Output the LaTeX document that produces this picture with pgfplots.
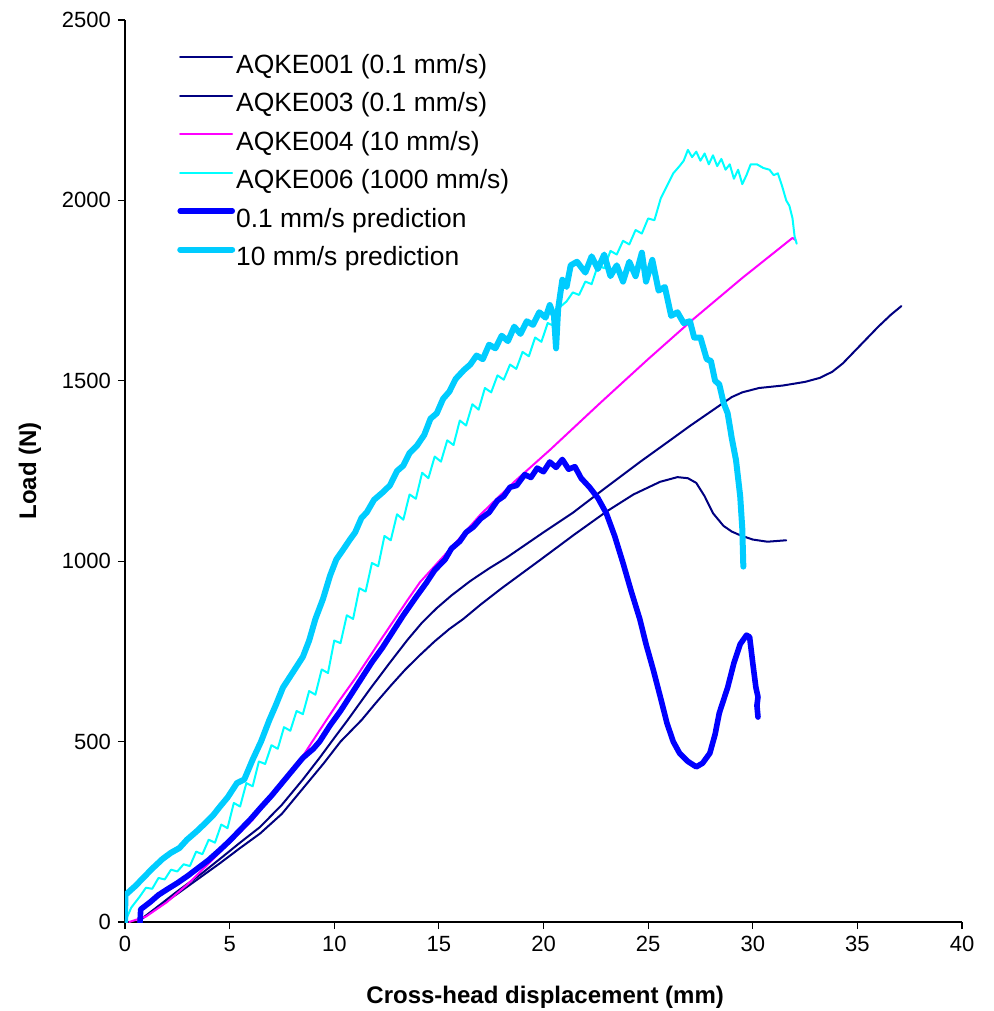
\documentclass[border=0pt]{standalone}
\usepackage{pgfplots}
\pgfplotsset{compat=1.18}
\usepackage{fontspec}
\setmainfont{Liberation Sans}
\definecolor{cnavy}{HTML}{000080}
\definecolor{cmag}{HTML}{FF00FF}
\definecolor{ccyan}{HTML}{00FFFF}
\definecolor{cblue}{HTML}{0000FF}
\definecolor{csky}{HTML}{00CCFF}
\begin{document}
\begin{tikzpicture}
\useasboundingbox (-62.5pt,-44.5pt) rectangle (434pt,461pt);
\begin{axis}[
  at={(0pt,0pt)}, anchor=south west,
  scale only axis, width=418.5pt, height=451pt,
  xmin=0, xmax=40, ymin=0, ymax=2500,
  axis lines*=left,
  axis line style={line width=0.6pt, black},
  xtick={0,5,...,40}, ytick={0,500,...,2500},
  tick align=outside, major tick length=3.5pt,
  tick style={line width=0.6pt, black},
  /pgf/number format/assume math mode=true,
  /pgf/number format/1000 sep={},
  ticklabel style={font=\fontsize{11}{13}\selectfont},
  xlabel={\textbf{Cross-head displacement (mm)}},
  ylabel={\textbf{Load (N)}},
  label style={font=\fontsize{12}{14}\selectfont},
  xlabel style={at={(axis description cs:0.502,-0.0831)}, anchor=center},
  ylabel style={at={(axis description cs:-0.1135,0.5)}, anchor=center},
  legend cell align=left,
  legend style={draw=none, fill=none, at={(0.0624,0.9623)}, anchor=north west,
    inner sep=0pt, outer sep=0pt, column sep=0.5pt, row sep=7.25pt,
    font=\fontsize{13.2}{14}\selectfont,
    nodes={inner sep=0pt, text height=9.5pt, text depth=2.5pt}},
  legend image code/.code={\draw[#1] (0pt,0.45em) -- (26pt,0.45em);},
  every axis plot/.append style={line join=round, line cap=round},
]
% AQKE001 (upper navy)
\addplot[cnavy, line width=1pt] coordinates {
(0.6,0) (1.5,40) (2.5,85) (3.7,136) (4.54,175) (5.5,220) (6.45,263) (7.5,325)
(8.5,395) (9.3,455) (10.0,510) (10.67,562) (11.7,645) (12.7,722) (13.5,782)
(14.2,830) (14.9,870) (15.6,905) (16.5,945) (17.4,980) (18.24,1010) (20.0,1080)
(21.42,1135) (23.0,1205) (24.61,1275) (26.0,1333) (27.0,1375) (28.3,1427)
(29.0,1455) (29.5,1468) (30.3,1480) (31.45,1487) (32.5,1497) (33.2,1508)
(33.8,1525) (34.3,1548) (34.8,1578) (35.3,1608) (36,1650) (36.6,1683) (37.1,1707)};
\addlegendentry{AQKE001 (0.1 mm/s)}
% AQKE003 (lower navy)
\addplot[cnavy, line width=1pt] coordinates {
(0.6,0) (1.5,38) (2.5,78) (3.7,128) (4.54,163) (5.5,205) (6.45,245) (7.5,300)
(8.5,370) (9.5,440) (10.3,500) (11.31,560) (12.0,608) (12.7,655) (13.4,700)
(14.1,740) (14.8,778) (15.5,812) (16.17,840) (17.0,880) (18.0,925) (19.83,1003)
(21.5,1075) (23.02,1138) (24.3,1185) (25.57,1220) (26.4,1233) (26.9,1230)
(27.3,1217) (27.7,1180) (28.1,1133) (28.6,1098) (29.0,1082) (29.4,1072)
(30.0,1060) (30.7,1054) (31.6,1058)};
\addlegendentry{AQKE003 (0.1 mm/s)}
% AQKE004 magenta
\addplot[cmag, line width=1pt] coordinates {
(0.2,0) (1,15) (2,55) (3,105) (4.5,191) (6.1,283) (7.5,385) (8.5,460) (9.4,540)
(10.2,610) (11,675) (12.2,780) (13.5,892) (14.1,942) (15.4,1025) (17,1130)
(18.6,1220) (20.3,1308) (22.7,1438) (25,1560) (27.1,1668) (29.5,1785)
(31.9,1896) (32.05,1890)};
\addlegendentry{AQKE004 (10 mm/s)}
% AQKE006 thin cyan
\addplot[ccyan, line width=1pt] coordinates {
(0,0) (0.3,40) (0.7,70) (1.0,95) (1.3,92) (1.6,122) (1.9,118) (2.2,145) (2.5,140)
(2.8,160) (3.1,155) (3.4,195) (3.7,188) (4.0,228) (4.3,220) (4.6,270) (4.9,260)
(5.2,330) (5.5,320) (5.8,385) (6.1,376) (6.4,445) (6.7,438) (7.0,490) (7.3,480)
(7.6,540) (7.9,530) (8.2,585) (8.5,576) (8.8,640) (9.1,630) (9.4,700) (9.7,690)
(10.0,780) (10.3,773) (10.6,850) (10.9,840) (11.2,925) (11.5,916) (11.8,995)
(12.1,986) (12.4,1070) (12.7,1058) (13.0,1130) (13.3,1115) (13.6,1185) (13.9,1173)
(14.2,1245) (14.5,1230) (14.8,1290) (15.1,1276) (15.4,1335) (15.7,1322)
(16.0,1390) (16.3,1376) (16.6,1435) (16.9,1420) (17.2,1480) (17.5,1468)
(17.8,1515) (18.1,1503) (18.4,1545) (18.7,1533) (19.0,1580) (19.3,1568)
(19.6,1620) (19.9,1608) (20.2,1660) (20.5,1652) (20.8,1705) (21.1,1720)
(21.4,1745) (21.7,1738) (22.0,1775) (22.3,1768) (22.6,1820) (22.9,1812)
(23.2,1860) (23.5,1850) (23.8,1888) (24.1,1878) (24.4,1918) (24.7,1908)
(25.0,1950) (25.3,1945) (25.6,2005) (25.9,2040) (26.2,2075) (26.5,2095)
(26.7,2110) (26.9,2140) (27.1,2120) (27.3,2135) (27.5,2110) (27.7,2130)
(27.9,2100) (28.1,2125) (28.3,2095) (28.5,2115) (28.7,2085) (28.9,2100)
(29.1,2060) (29.3,2085) (29.5,2045) (29.7,2070) (29.9,2100) (30.2,2100)
(30.5,2090) (30.8,2085) (31.0,2070) (31.2,2075) (31.4,2040) (31.6,2000)
(31.75,1985) (31.9,1950) (32.0,1900) (32.1,1880)};
\addlegendentry{AQKE006 (1000 mm/s)}
% 0.1 mm/s prediction
\addplot[cblue, line width=2.8pt] coordinates {
(0.72,0) (0.75,35) (1.2,55) (1.6,75) (2.0,90) (2.5,108) (3.0,128) (3.5,150)
(4.0,172) (4.54,200) (5.0,225) (5.5,255) (6.0,285) (6.5,318) (7.0,350) (7.5,385)
(8.0,420) (8.5,455) (9.0,480) (9.3,500) (9.8,545) (10.3,585) (10.8,630)
(11.3,675) (11.8,720) (12.3,760) (12.8,805) (13.3,850) (13.9,900) (14.4,940)
(14.8,975) (15.05,990) (15.3,1005) (15.6,1035) (16.0,1055) (16.3,1080)
(16.65,1095) (17.0,1118) (17.4,1135) (17.8,1168) (18.1,1180) (18.4,1205)
(18.72,1210) (19.1,1240) (19.4,1232) (19.7,1258) (20.0,1248) (20.3,1275)
(20.6,1260) (20.9,1282) (21.2,1255) (21.5,1262) (21.8,1230) (22.2,1205)
(22.6,1175) (23.0,1133) (23.4,1070) (23.8,995) (24.2,915) (24.6,840) (24.9,770)
(25.25,698) (25.6,620) (25.9,551) (26.2,500) (26.5,468) (26.9,445) (27.3,430)
(27.6,440) (27.95,468) (28.2,520) (28.4,579) (28.8,650) (29.1,718) (29.4,770)
(29.7,795) (29.85,790) (30.0,718) (30.15,650) (30.25,624) (30.2,600) (30.25,568)};
\addlegendentry{0.1 mm/s prediction}
% 10 mm/s prediction
\addplot[csky, line width=3pt] coordinates {
(0,0) (0.02,75) (0.5,100) (1.0,130) (1.34,150) (1.8,175) (2.2,192) (2.6,205)
(2.96,228) (3.4,250) (3.8,272) (4.2,295) (4.54,320) (4.9,345) (5.35,385)
(5.7,395) (6.1,450) (6.5,500) (6.9,560) (7.2,600) (7.55,650) (8.0,690)
(8.5,735) (8.8,780) (9.1,840) (9.46,895) (9.8,960) (10.1,1005) (10.4,1030)
(10.75,1060) (11.0,1080) (11.3,1120) (11.55,1135) (11.9,1170) (12.3,1190)
(12.66,1210) (13.0,1250) (13.3,1265) (13.6,1300) (13.95,1320) (14.3,1350)
(14.6,1395) (14.9,1410) (15.2,1450) (15.5,1470) (15.8,1505) (16.2,1530)
(16.5,1545) (16.8,1570) (17.1,1560) (17.4,1600) (17.7,1590) (18.0,1625)
(18.3,1610) (18.6,1650) (18.9,1630) (19.2,1665) (19.5,1655) (19.8,1690)
(20.1,1675) (20.3,1710) (20.5,1680) (20.6,1590) (20.7,1700) (20.9,1780)
(21.1,1760) (21.3,1820) (21.6,1830) (22.0,1800) (22.3,1845) (22.6,1810)
(22.9,1850) (23.2,1790) (23.5,1820) (23.8,1775) (24.1,1830) (24.4,1790)
(24.7,1855) (24.9,1775) (25.2,1835) (25.5,1750) (25.8,1760) (26.1,1680)
(26.4,1690) (26.7,1660) (27.0,1665) (27.2,1620) (27.5,1620) (27.8,1560)
(28.0,1555) (28.2,1500) (28.4,1490) (28.6,1440) (28.8,1410) (29.0,1340)
(29.2,1280) (29.4,1180) (29.5,1090) (29.55,985)};
\addlegendentry{10 mm/s prediction}
\end{axis}
\end{tikzpicture}
\end{document}
